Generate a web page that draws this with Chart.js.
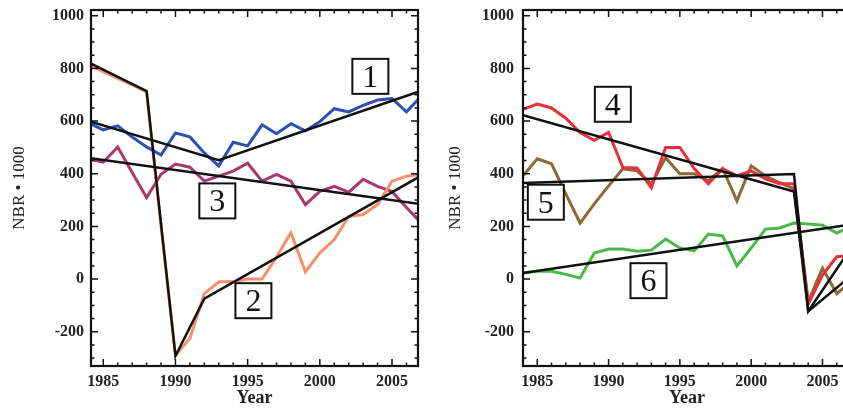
<!DOCTYPE html>
<html>
<head>
<meta charset="utf-8">
<script src="https://cdn.jsdelivr.net/npm/chart.js@4.4.1/dist/chart.umd.min.js"></script>
<style>
html, body { margin: 0; padding: 0; background: #fff; overflow: hidden; }
#wrap { position: relative; width: 843px; height: 408px; overflow: hidden; }
#left { position: absolute; left: 0; top: 0; }
#right { position: absolute; left: 430px; top: 0; }
</style>
</head>
<body>
<div id="wrap">
  <canvas id="left" width="430" height="408" style="width:430px;height:408px"></canvas>
  <canvas id="right" width="435" height="408" style="width:435px;height:408px"></canvas>
</div>
<script>
// years of the Landsat time series
var years = [1984, 1985, 1986, 1987, 1988, 1989, 1990, 1991, 1992, 1993, 1994, 1995,
             1996, 1997, 1998, 1999, 2000, 2001, 2002, 2003, 2004, 2005, 2006, 2007];

// left panel: sites 1, 2, 3
var site1 = [593, 567, 582, 540, 502, 471, 555, 540, 479, 430, 520, 506,
             586, 552, 590, 563, 598, 647, 635, 660, 680, 686, 635, 693];
var site2 = [815, 788, 762, 738, 712, 200, -290, -225, -55, -10, -10, 0,
             0, 84, 176, 27, 100, 150, 238, 245, 283, 372, 391, 398];
var site3 = [456, 444, 502, 405, 310, 398, 437, 425, 372, 391, 410, 440,
             372, 398, 372, 283, 333, 352, 330, 379, 352, 333, 272, 215];

// fitted segments (vertex years and values)
var fit1Years = [1984, 1993, 2007];
var fit1 = [600, 452, 715];
var fit2Years = [1984, 1988, 1990, 1992, 2007];
var fit2 = [822, 714, -292, -74, 392];
var fit3Years = [1984, 2007];
var fit3 = [460, 285];

// right panel: sites 4, 5, 6
var site4 = [645, 665, 650, 611, 557, 527, 557, 424, 422, 347, 500, 500,
             420, 362, 419, 392, 411, 381, 362, 362, -95, 15, 85, 90];
var site5 = [392, 457, 438, 324, 213, 286, 354, 419, 411, 362, 461, 400,
             400, 373, 420, 297, 430, 392, 366, 343, -85, 42, -55, -10];
var site6 = [23, 30, 30, 18, 4, 99, 114, 114, 106, 110, 152, 118,
             107, 171, 164, 50, 118, 190, 194, 213, 209, 205, 175, 200];

var fit4Years = [1984, 2003, 2004, 2007];
var fit4 = [622, 333, -122, 118];
var fit5Years = [1984, 2003, 2004, 2007];
var fit5 = [365, 399, -122, 12];
var fit6Years = [1984, 2007];
var fit6 = [23, 207];

// tick labels
var yTicks = [-200, 0, 200, 400, 600, 800, 1000];
var xTicks = [1985, 1990, 1995, 2000, 2005];

// numbered boxes
var leftBoxText = ['1', '2', '3'];
var leftBoxYear = [2003.5, 1995.4, 1992.9];
var leftBoxVal = [770, -82, 297];
var rightBoxText = ['4', '5', '6'];
var rightBoxYear = [1990.3, 1985.6, 1992.8];
var rightBoxVal = [664, 292, -6];

var serif = "'Liberation Serif', 'Times New Roman', serif";

function pts(xs, ys) {
    return xs.map(function (x, i) { return {x: x, y: ys[i]}; });
}

function series(vals, color) {
    return {data: pts(years, vals), borderColor: color, borderWidth: 3,
            pointRadius: 0, tension: 0, order: 2};
}

function fit(xs, vals) {
    return {data: pts(xs, vals), borderColor: '#111', borderWidth: 2.5,
            pointRadius: 0, tension: 0, order: 1};
}

// IDL style frame with inward ticks on all four sides
var frameTicks = {
    id: 'frameTicks',
    afterDatasetsDraw: function (chart) {
        var ctx = chart.ctx, a = chart.chartArea;
        var x = chart.scales.x, y = chart.scales.y;
        ctx.save();
        ctx.strokeStyle = '#111';
        ctx.lineWidth = 1.5;
        ctx.beginPath();
        for (var v = -300; v <= 1000; v += 50) {
            var py = y.getPixelForValue(v);
            var len = v % 200 === 0 ? 7 : 3.5;
            ctx.moveTo(a.left, py); ctx.lineTo(a.left + len, py);
            ctx.moveTo(a.right, py); ctx.lineTo(a.right - len, py);
        }
        for (var yr = 1985; yr <= 2006; yr++) {
            var px = x.getPixelForValue(yr);
            var l = yr % 5 === 0 ? 7 : 3.5;
            ctx.moveTo(px, a.bottom); ctx.lineTo(px, a.bottom - l);
            ctx.moveTo(px, a.top); ctx.lineTo(px, a.top + l);
        }
        ctx.stroke();
        ctx.lineWidth = 2.2;
        ctx.strokeRect(a.left, a.top, a.right - a.left, a.bottom - a.top);
        ctx.restore();
    }
};

var boxLabels = {
    id: 'boxLabels',
    afterDatasetsDraw: function (chart, args, opts) {
        var ctx = chart.ctx;
        var x = chart.scales.x, y = chart.scales.y;
        ctx.save();
        ctx.font = '32px ' + serif;
        ctx.textAlign = 'center';
        ctx.textBaseline = 'middle';
        opts.texts.forEach(function (t, i) {
            var cx = x.getPixelForValue(opts.xs[i]);
            var cy = y.getPixelForValue(opts.ys[i]);
            ctx.fillStyle = '#fff';
            ctx.fillRect(cx - 18, cy - 17.5, 36, 35);
            ctx.strokeStyle = '#111';
            ctx.lineWidth = 2;
            ctx.strokeRect(cx - 18, cy - 17.5, 36, 35);
            ctx.fillStyle = '#111';
            ctx.fillText(t, cx, cy + 2);
        });
        ctx.restore();
    }
};

function makeChart(id, datasets, boxes, p) {
    return new Chart(document.getElementById(id), {
        type: 'line',
        data: {datasets: datasets},
        options: {
            responsive: false,
            animation: false,
            layout: {padding: {top: 10, right: p.right, left: 0, bottom: 0}},
            plugins: {legend: {display: false}, tooltip: {enabled: false}, boxLabels: boxes},
            scales: {
                x: {
                    type: 'linear', min: p.xmin, max: p.xmax,
                    grid: {display: false, drawTicks: false}, border: {display: false},
                    afterBuildTicks: function (s) { s.ticks = xTicks.map(function (v) { return {value: v}; }); },
                    afterFit: function (s) { s.height = 42; s.paddingLeft = 0; s.paddingRight = 0; },
                    ticks: {autoSkip: false, maxRotation: 0, padding: 6, color: '#222',
                            font: {family: serif, size: 16, weight: 'bold'},
                            callback: function (v) { return String(v); }},
                    title: {display: true, text: 'Year', color: '#222', padding: {top: 0, bottom: -1},
                            font: {family: serif, size: 18, weight: 'bold'}}
                },
                y: {
                    min: -330, max: 1022,
                    grid: {display: false, drawTicks: false}, border: {display: false},
                    afterBuildTicks: function (s) { s.ticks = yTicks.map(function (v) { return {value: v}; }); },
                    afterFit: function (s) { s.width = p.yw; s.paddingTop = 0; s.paddingBottom = 0; },
                    ticks: {padding: p.tickPad, color: '#222',
                            font: {family: serif, size: 16, weight: 'bold'},
                            callback: function (v) { return String(v); }},
                    title: {display: true, text: 'NBR \u2022 1000', color: '#222', padding: {top: p.titlePad, bottom: 0},
                            font: {family: serif, size: 17}}
                }
            }
        },
        plugins: [frameTicks, boxLabels]
    });
}

makeChart('left', [
    fit(fit1Years, fit1), fit(fit2Years, fit2), fit(fit3Years, fit3),
    series(site1, '#3050b0'), series(site2, '#f4906a'), series(site3, '#a8386e')
], {texts: leftBoxText, xs: leftBoxYear, ys: leftBoxVal},
   {right: 12, yw: 91, xmin: 1984.15, xmax: 2006.8, tickPad: 7, titlePad: 9});

makeChart('right', [
    fit(fit4Years, fit4), fit(fit5Years, fit5), fit(fit6Years, fit6),
    series(site4, '#e8303a'), series(site5, '#8c6a34'), series(site6, '#48b848')
], {texts: rightBoxText, xs: rightBoxYear, ys: rightBoxVal},
   {right: 14, yw: 93, xmin: 1984, xmax: 2007, tickPad: 9, titlePad: 15});
</script>
</body>
</html>
